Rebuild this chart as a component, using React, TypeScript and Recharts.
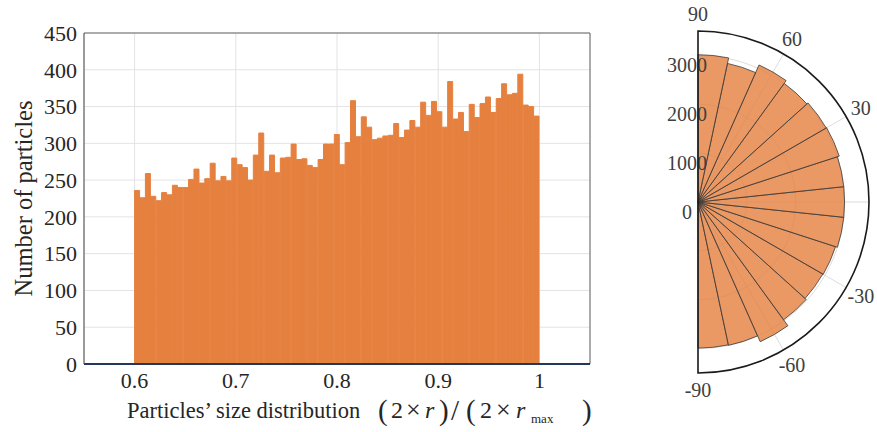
import React from 'react';
import {
  BarChart,
  Bar,
  XAxis,
  YAxis,
  CartesianGrid,
  ReferenceLine,
  Label,
  RadialBarChart,
  RadialBar,
  PolarAngleAxis,
  PolarRadiusAxis,
  PolarGrid,
  PieChart,
  Pie,
} from 'recharts';

const FONT = '"Liberation Serif", "Times New Roman", serif';
const TEXT = '#262626';
const ORANGE = '#E5803F';

// histogram of particle sizes, equal bins between 0.6 and 1
const BIN_START = 0.6;
const BIN_END = 1.0;
const binCounts = [
  236, 226, 259, 228, 222, 233, 230, 243, 240, 240, 251, 265, 246, 252, 273,
  249, 255, 249, 280, 271, 267, 250, 284, 314, 262, 284, 260, 280, 281, 299,
  278, 279, 270, 267, 278, 299, 299, 312, 271, 301, 358, 309, 336, 322, 305,
  307, 310, 311, 327, 308, 318, 331, 322, 356, 338, 357, 343, 322, 384, 333,
  342, 316, 353, 335, 354, 363, 342, 361, 381, 366, 368, 394, 352, 350, 337,
];
const xTicks = [0.6, 0.7, 0.8, 0.9, 1];
const yTicks = [0, 50, 100, 150, 200, 250, 300, 350, 400, 450];

// polar histogram, 12 degree sectors from -90 up to 90
const sectorAngles = ['-84', '-72', '-60', '-48', '-36', '-24', '-12', '0', '12', '24', '36', '48', '60', '72', '84'];
const sectorCounts = [2990, 3000, 3130, 2980, 2950, 2960, 3000, 3000, 3000, 3040, 3030, 3000, 3070, 2900, 3015];
const radiusTicks = [0, 1000, 2000, 3000];
const spokeAngles = [60, 30, 0, -30, -60];
const angleLabels = ['90', '60', '30', '0', '-30', '-60', '-90'];

const binWidth = (BIN_END - BIN_START) / binCounts.length;
const histData = binCounts.map((count, i) => ({ x: BIN_START + (i + 0.5) * binWidth, count }));
const roseData = sectorAngles.map((angle, i) => ({ angle, count: sectorCounts[i] }));
const labelData = angleLabels.map((name) => ({ name, v: 1 }));
// fine angle steps so the polygon grid looks like half circles
const arcAngles = Array.from({ length: 91 }, (_, i) => 90 - 2 * i);

const YTitle = ({ viewBox }: any) => {
  const cx = viewBox.x - 1;
  const cy = viewBox.y + viewBox.height / 2;
  return (
    <text x={cx} y={cy} transform={`rotate(-90 ${cx} ${cy})`} textAnchor="middle" dominantBaseline="central"
      fill={TEXT} fontFamily={FONT} fontSize={24.5}>
      Number of particles
    </text>
  );
};

const XTitle = ({ viewBox }: any) => {
  const x0 = viewBox.x + 43;
  const base = viewBox.y + 54;
  const big = { fontSize: 29 };
  return (
    <text x={x0} y={base} fill={TEXT} fontFamily={FONT} fontSize={22.5}>
      <tspan>Particles’ size distribution</tspan>
      <tspan x={x0 + 251} y={base + 2} {...big}>(</tspan>
      <tspan x={x0 + 264} y={base} fontSize={24}>2</tspan>
      <tspan x={x0 + 279} y={base} fontSize={26}>×</tspan>
      <tspan x={x0 + 298} y={base} fontSize={24} fontStyle="italic">r</tspan>
      <tspan x={x0 + 312} y={base + 2} {...big}>)</tspan>
      <tspan x={x0 + 324} y={base + 2} {...big}>/</tspan>
      <tspan x={x0 + 339} y={base + 2} {...big}>(</tspan>
      <tspan x={x0 + 353} y={base} fontSize={24}>2</tspan>
      <tspan x={x0 + 369} y={base} fontSize={26}>×</tspan>
      <tspan x={x0 + 389} y={base} fontSize={24} fontStyle="italic">r</tspan>
      <tspan x={x0 + 404} y={base + 5} fontSize={13}>max</tspan>
      <tspan x={x0 + 455} y={base + 2} {...big}>)</tspan>
    </text>
  );
};

const RadiusTick = ({ x, y, payload }: any) => (
  <text x={x - 11} y={y + 10} textAnchor="middle" dominantBaseline="central" fill="#404040" fontFamily={FONT} fontSize={20}>
    {payload.value}
  </text>
);

const AngleLabel = ({ cx, cy, midAngle, outerRadius, name }: any) => {
  const r = outerRadius + 17;
  const a = (-midAngle * Math.PI) / 180;
  return (
    <text x={cx + r * Math.cos(a)} y={cy + r * Math.sin(a)} textAnchor="middle" dominantBaseline="central"
      fill="#404040" fontFamily={FONT} fontSize={20}>
      {name}
    </text>
  );
};

export default function App() {
  return (
    <div style={{ position: 'absolute', left: 0, top: 0, width: 877, height: 432, background: '#fff', overflow: 'hidden' }}>
      <div style={{ position: 'absolute', left: 0, top: 0 }}>
        <BarChart width={620} height={432} data={histData} margin={{ top: 33, right: 30, bottom: 38, left: 24 }}
          barCategoryGap={0} barGap={0}>
          <CartesianGrid stroke="#e3e3e3" />
          <XAxis dataKey="x" type="number" domain={[0.55, 1.05]} ticks={xTicks} allowDataOverflow height={30}
            tickFormatter={(v: number) => (v === 1 ? '1' : v.toFixed(1))}
            tick={{ fill: TEXT, fontFamily: FONT, fontSize: 22 }} tickLine={false} tickSize={6} tickMargin={2}
            axisLine={{ stroke: '#22395a', strokeWidth: 2 }}>
            <Label content={XTitle} />
          </XAxis>
          <YAxis type="number" domain={[0, 450]} ticks={yTicks} width={60} allowDataOverflow
            tick={{ fill: TEXT, fontFamily: FONT, fontSize: 22 }} tickLine={false} tickSize={5} tickMargin={2}
            axisLine={{ stroke: '#444' }}>
            <Label content={YTitle} />
          </YAxis>
          <ReferenceLine y={450} stroke="#666" />
          <ReferenceLine x={1.05} stroke="#666" />
          <Bar dataKey="count" fill={ORANGE} stroke={ORANGE} strokeWidth={1} isAnimationActive={false} />
        </BarChart>
      </div>
      <div style={{ position: 'absolute', left: 620, top: 0 }}>
        {/* recharts draws each centric sector one band behind its tick, so the angle range is shifted by one bin */}
        <RadialBarChart width={257} height={432} data={roseData} cx={78} cy={202} innerRadius={0} outerRadius={171}
          startAngle={-78} endAngle={102} layout="centric" barCategoryGap={0} barGap={0}
          margin={{ top: 0, right: 0, bottom: 0, left: 0 }}>
          <PolarGrid gridType="polygon" polarAngles={arcAngles} radialLines={false} stroke="#dcdcdc" />
          <PolarGrid gridType="polygon" polarAngles={spokeAngles} polarRadius={[0]} stroke="#dcdcdc" />
          <PolarAngleAxis type="category" dataKey="angle" tick={false} tickLine={false} axisLine={false} />
          <PolarRadiusAxis type="number" angle={90} domain={[0, 3500]} ticks={radiusTicks} allowDataOverflow
            axisLine={false} tickLine={false} tick={RadiusTick} />
          <RadialBar dataKey="count" fill={ORANGE} fillOpacity={0.8} stroke="#3a3a3a" strokeWidth={0.8}
            isAnimationActive={false} />
        </RadialBarChart>
      </div>
      <div style={{ position: 'absolute', left: 620, top: 0 }}>
        <PieChart width={257} height={432} margin={{ top: 0, right: 0, bottom: 0, left: 0 }}>
          <Pie data={[{ v: 1 }]} dataKey="v" cx={78} cy={202} innerRadius={0} outerRadius={171} startAngle={90}
            endAngle={-90} fill="none" stroke="#1a1a1a" strokeWidth={1.6} isAnimationActive={false} />
          <Pie data={labelData} dataKey="v" nameKey="name" cx={78} cy={202} innerRadius={0} outerRadius={171}
            startAngle={105} endAngle={-105} fill="none" stroke="none" label={AngleLabel} labelLine={false}
            isAnimationActive={false} />
        </PieChart>
      </div>
    </div>
  );
}
